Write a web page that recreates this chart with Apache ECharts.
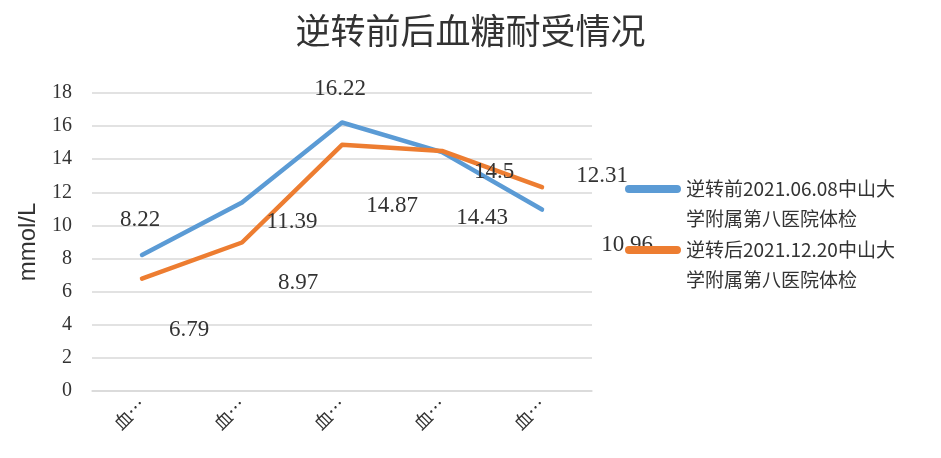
<!DOCTYPE html>
<html><head><meta charset="utf-8">
<script src="https://cdn.jsdelivr.net/npm/echarts@6/dist/echarts.min.js"></script>
<style>html,body{margin:0;padding:0;background:#fff}#c{width:941px;height:458px}</style>
</head><body><div id="c"></div>
<script>
const title = '逆转前后血糖耐受情况';
const categories = ['血糖0h', '血糖0.5h', '血糖1h', '血糖2h', '血糖3h'];
const seriesNames = ['逆转前2021.06.08中山大学附属第八医院体检', '逆转后2021.12.20中山大学附属第八医院体检'];
const beforeValues = [8.22, 11.39, 16.22, 14.43, 10.96];
const afterValues = [6.79, 8.97, 14.87, 14.5, 12.31];
const yTicks = [0, 2, 4, 6, 8, 10, 12, 14, 16, 18];

// label offsets (style only)
const beforeOffsets = [[-2, -35], [50, 20], [-2, -34], [40, 66], [85, 35]];
const afterOffsets = [[47, 51], [56, 40], [50, 61], [52, 21], [60, -11]];

function mk(values, offsets) {
  return values.map((v, i) => ({ value: v, label: { offset: offsets[i] } }));
}
const numFont = '"Liberation Serif", "Noto Sans CJK SC", serif';
// legend icon: rounded bar at the top of a taller box so it lines up with the first text line
const legendIcon = 'path://M4,0 L52,0 A4,4 0 0 1 52,8 L4,8 A4,4 0 0 1 4,0 Z M28,38 L28.01,38 L28.01,38.01 Z';
const chart = echarts.init(document.getElementById('c'));
chart.setOption({
  animation: false,
  title: { text: title, left: 'center', top: 8, textStyle: { fontSize: 35, fontWeight: 'normal', color: '#333', fontFamily: '"Noto Sans CJK SC"' } },
  grid: { left: 92, right: 349, top: 93, bottom: 67 },
  legend: {
    orient: 'vertical', left: 620, top: 169, itemWidth: 56, itemHeight: 38, itemGap: 1,
    icon: legendIcon,
    formatter: n => n.slice(0, 16) + '\n' + n.slice(16),
    textStyle: { fontSize: 19, lineHeight: 30, color: '#333', fontFamily: '"Noto Sans CJK SC"' }
  },
  xAxis: {
    type: 'category', data: categories, boundaryGap: true,
    axisLine: { lineStyle: { color: '#d9d9d9', width: 1.5 } }, axisTick: { show: false },
    axisLabel: { rotate: 45, fontSize: 18, color: '#333', margin: 10, fontFamily: '"Noto Sans CJK SC"', formatter: s => s.charAt(0) + '…' }
  },
  yAxis: {
    type: 'value', min: 0, max: 18, interval: 2,
    name: 'mmol/L', nameLocation: 'middle', nameGap: 52, nameRotate: 90,
    nameTextStyle: { fontSize: 24, color: '#333', fontFamily: '"Liberation Sans", sans-serif' },
    axisLine: { show: false }, axisTick: { show: false },
    splitLine: { lineStyle: { color: '#d9d9d9', width: 1.5 } },
    axisLabel: { fontSize: 20, color: '#333', margin: 20, fontFamily: numFont, formatter: v => yTicks.includes(v) ? String(v) : '' }
  },
  series: [
    { name: seriesNames[0], type: 'line', data: mk(beforeValues, beforeOffsets), symbol: 'circle', symbolSize: 0, showSymbol: true,
      itemStyle: { color: '#5B9BD5' }, lineStyle: { width: 4.5, color: '#5B9BD5', cap: 'round', join: 'round' },
      label: { show: true, position: 'inside', fontSize: 23, color: '#333', fontFamily: numFont } },
    { name: seriesNames[1], type: 'line', data: mk(afterValues, afterOffsets), symbol: 'circle', symbolSize: 0, showSymbol: true,
      itemStyle: { color: '#ED7D31' }, lineStyle: { width: 4.5, color: '#ED7D31', cap: 'round', join: 'round' },
      label: { show: true, position: 'inside', fontSize: 23, color: '#333', fontFamily: numFont } }
  ]
});
</script></body></html>
